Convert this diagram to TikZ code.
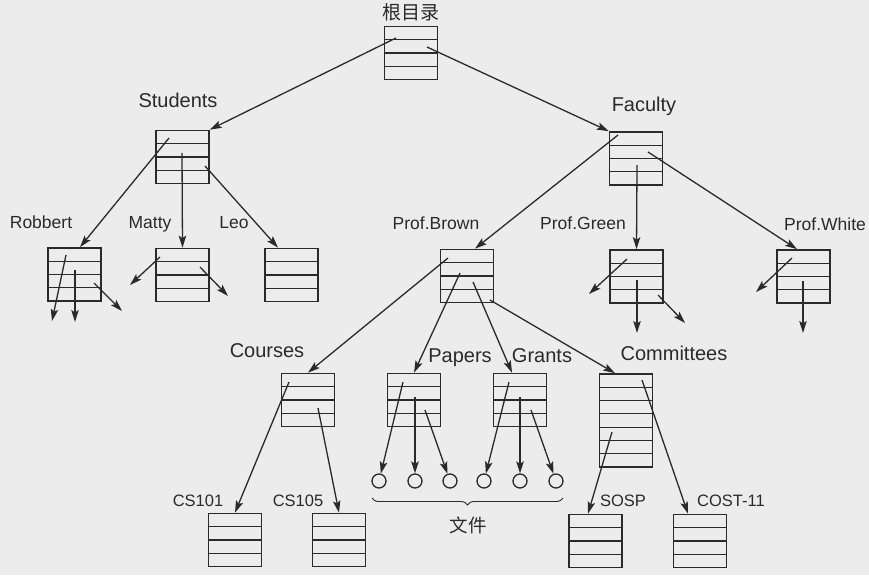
\documentclass[tikz,border=0pt]{standalone}
\usepackage{fontspec}
\setmainfont{Liberation Sans}
\newfontfamily\cjk{Noto Sans CJK SC}
\usetikzlibrary{arrows.meta,calc,decorations.pathreplacing}
\definecolor{ink}{HTML}{2A2A2A}
\definecolor{paper}{HTML}{ECECEC}
\begin{document}
\begin{tikzpicture}[x=1pt,y=-1pt,
  tbl/.style={draw=ink, line width=1.5pt, minimum width=53pt, minimum height=#1*13.3pt, inner sep=0pt,
    path picture={
      \pgfmathtruncatemacro\nl{#1-1}
      \foreach \i in {1,...,\nl}{
        \draw[ink, line width=1.05pt]
          ($(path picture bounding box.north west)!\i/#1!(path picture bounding box.south west)$) --
          ($(path picture bounding box.north east)!\i/#1!(path picture bounding box.south east)$);}}},
  tbl/.default=4,
  arr/.style={draw=ink, line width=1.3pt, -{Stealth[length=12pt,width=7.5pt,inset=2.5pt]}},
  lbl/.style={anchor=base, font=\fontsize{17.5}{20}\selectfont, text=ink, inner sep=0pt},
  big/.style={anchor=base, font=\fontsize{20}{24}\selectfont, text=ink, inner sep=0pt},
  sml/.style={anchor=base, font=\fontsize{16.5}{19}\selectfont, text=ink, inner sep=0pt},
  zh/.style={font=\cjk\fontsize{19}{22}\selectfont, text=ink, inner sep=0pt},
  leaf/.style={circle, draw=ink, line width=1.3pt, minimum size=14pt, inner sep=0pt}
]
\fill[paper] (0,0) rectangle (869,575);
\useasboundingbox (0,0) rectangle (869,575);

% boxes
\node[tbl] (root) at (411,53) {};
\node[tbl] (stud) at (182.5,157) {};
\node[tbl] (fac) at (636,158.5) {};
\node[tbl] (rob) at (74.5,274.5) {};
\node[tbl] (mat) at (182.5,275) {};
\node[tbl] (leo) at (291.5,275) {};
\node[tbl] (brown) at (467,276) {};
\node[tbl] (green) at (636.5,276.5) {};
\node[tbl] (white) at (803.5,276.5) {};
\node[tbl] (courses) at (308,400) {};
\node[tbl] (papers) at (414,400) {};
\node[tbl] (grants) at (520,400) {};
\node[tbl=7] (comm) at (626,420.5) {};
\node[tbl] (cs101) at (235,540) {};
\node[tbl] (cs105) at (339,540) {};
\node[tbl] (sosp) at (595.5,541) {};
\node[tbl] (cost) at (700,541) {};

% files
\node[leaf] (c1) at (379,481) {};
\node[leaf] (c2) at (415,481) {};
\node[leaf] (c3) at (450,481) {};
\node[leaf] (c4) at (484,481) {};
\node[leaf] (c5) at (520,481) {};
\node[leaf] (c6) at (556,481) {};

% labels
\node[zh] (lroot) at (411,12) {根目录};
\node[big] (lstud) at (178,107) {Students};
\node[big] (lfac) at (644,112) {Faculty};
\node[lbl] (lrob) at (41,228) {Robbert};
\node[lbl] (lmat) at (150,228) {Matty};
\node[lbl] (lleo) at (234,228) {Leo};
\node[lbl] (lbrown) at (436,229) {Prof.Brown};
\node[lbl] (lgreen) at (583,229) {Prof.Green};
\node[lbl] (lwhite) at (825,230) {Prof.White};
\node[big] (lcourses) at (267,357) {Courses};
\node[big] (lpapers) at (460,362) {Papers};
\node[big] (lgrants) at (542,362) {Grants};
\node[big] (lcomm) at (674,360) {Committees};
\node[sml] (lcs101) at (198,506) {CS101};
\node[sml] (lcs105) at (298,506) {CS105};
\node[sml] (lsosp) at (623,506) {SOSP};
\node[sml] (lcost) at (731,506) {COST-11};
\node[zh, font=\cjk\fontsize{18.5}{22}\selectfont] (lfiles) at (468,525) {文件};

% brace
\coordinate (bl) at (372,498);
\coordinate (br) at (563,498);
\draw[ink, line width=0.9pt, decorate, decoration={brace, amplitude=7pt, mirror}] (bl) -- (br);

% arrow start points
\coordinate (rA) at (396,38);
\coordinate (rB) at (427,47);
\coordinate (sA) at (169,138);
\coordinate (sB) at (182,153);
\coordinate (sC) at (205,166);
\coordinate (fA) at (618,135);
\coordinate (fB) at (637,165);
\coordinate (fC) at (648,152);
\coordinate (bA) at (448,258);
\coordinate (bB) at (460,273);
\coordinate (bC) at (473,282);
\coordinate (bD) at (490,300);
\coordinate (kA) at (289,382);
\coordinate (kB) at (318,408);
\coordinate (pA) at (403,382);
\coordinate (pB) at (415,397);
\coordinate (pC) at (425,410);
\coordinate (gA) at (509,382);
\coordinate (gB) at (520,397);
\coordinate (gC) at (531,410);
\coordinate (mA) at (612,432);
\coordinate (mB) at (642,380);

% dangling arrows
\coordinate (roA) at (66,255);  \coordinate (roA2) at (52,321);
\coordinate (roB) at (75,270);  \coordinate (roB2) at (75,322);
\coordinate (roC) at (94,283);  \coordinate (roC2) at (122,311);
\coordinate (maA) at (160,257); \coordinate (maA2) at (130,285);
\coordinate (maB) at (200,267); \coordinate (maB2) at (228,296);
\coordinate (grA) at (627,259); \coordinate (grA2) at (589,294);
\coordinate (grB) at (637,280); \coordinate (grB2) at (637,333);
\coordinate (grC) at (658,295); \coordinate (grC2) at (685,323);
\coordinate (whA) at (792,258); \coordinate (whA2) at (756,292);
\coordinate (whB) at (803,281); \coordinate (whB2) at (803,333);

% connectors
\draw[arr] (rA) -- (stud.north east);
\draw[arr] (rB) -- (fac.north west);
\draw[arr] (sA) -- ($(rob.north)+(5.5,0)$);
\draw[arr] (sB) -- (mat.north);
\draw[arr] (sC) -- ($(leo.north)+(-13.5,0)$);
\draw[arr] (fA) -- ($(brown.north)+(8,0)$);
\draw[arr] (fB) -- (green.north);
\draw[arr] (fC) -- ($(white.north)+(-6.5,0)$);
\draw[arr] (bA) -- (courses.north);
\draw[arr] (bB) -- (papers.north);
\draw[arr] (bC) -- ($(grants.north)+(-8,0)$);
\draw[arr] (bD) -- ($(comm.north)+(-11,0)$);
\draw[arr] (kA) -- (cs101.north);
\draw[arr] (kB) -- (cs105.north);
\draw[arr] (pA) -- (c1);
\draw[arr] (pB) -- (c2);
\draw[arr] (pC) -- (c3);
\draw[arr] (gA) -- (c4);
\draw[arr] (gB) -- (c5);
\draw[arr] (gC) -- (c6);
\draw[arr] (mA) -- ($(sosp.north)+(-7.5,0)$);
\draw[arr] (mB) -- ($(cost.north)+(-12,0)$);

\draw[arr] (roA) -- (roA2);
\draw[arr] (roB) -- (roB2);
\draw[arr] (roC) -- (roC2);
\draw[arr] (maA) -- (maA2);
\draw[arr] (maB) -- (maB2);
\draw[arr] (grA) -- (grA2);
\draw[arr] (grB) -- (grB2);
\draw[arr] (grC) -- (grC2);
\draw[arr] (whA) -- (whA2);
\draw[arr] (whB) -- (whB2);
\end{tikzpicture}
\end{document}
